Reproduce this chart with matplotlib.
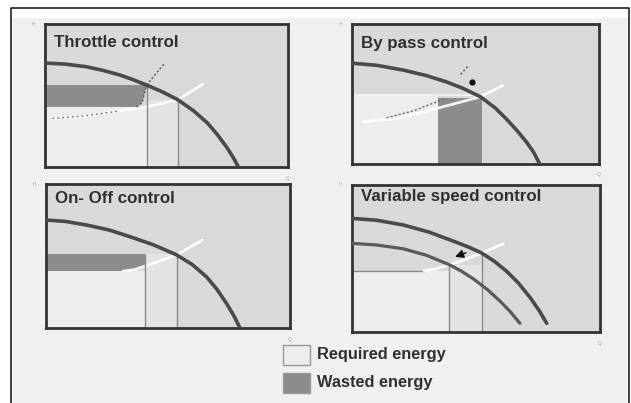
import matplotlib
matplotlib.use("Agg")
import matplotlib.pyplot as plt
import numpy as np
from matplotlib.patches import Rectangle

W, H = 631, 403

# ---------------- data (fractions of each panel's flow Q / head H) ----------------
titles = ["Throttle control", "By pass control", "On- Off control", "Variable speed control"]
legend_labels = ["Required energy", "Wasted energy"]

# Throttle control
thr_pump_q = [0.0, 0.08, 0.171, 0.24, 0.309, 0.36, 0.418, 0.48, 0.547, 0.61, 0.67, 0.71, 0.749, 0.775, 0.796]
thr_pump_h = [0.727, 0.72, 0.701, 0.675, 0.643, 0.612, 0.573, 0.528, 0.47, 0.395, 0.305, 0.225, 0.135, 0.065, 0.0]
thr_sys_q = [0.03, 0.15, 0.30, 0.418, 0.547, 0.65]
thr_sys_h = [0.34, 0.355, 0.39, 0.42, 0.47, 0.58]
thr_thr_q = [0.377, 0.40, 0.418, 0.45, 0.49]
thr_thr_h = [0.42, 0.45, 0.573, 0.64, 0.72]
thr_q1, thr_q2 = 0.418, 0.547
thr_h_op, thr_h_req = 0.573, 0.42

# By pass control
byp_pump_q = [0.0, 0.1, 0.21, 0.3, 0.38, 0.45, 0.52, 0.58, 0.626, 0.67, 0.707, 0.735, 0.76]
byp_pump_h = [0.72, 0.705, 0.67, 0.632, 0.588, 0.54, 0.48, 0.40, 0.32, 0.235, 0.155, 0.085, 0.0]
byp_sys_q = [0.046, 0.2, 0.35, 0.52, 0.61]
byp_sys_h = [0.30, 0.33, 0.40, 0.48, 0.56]
byp_dot_q = [0.14, 0.25, 0.38]
byp_dot_h = [0.33, 0.38, 0.47]
byp_q1, byp_q2 = 0.349, 0.525
byp_h_op = 0.49

# On-Off control
onf_pump_q = [0.0, 0.08, 0.167, 0.26, 0.344, 0.44, 0.535, 0.6, 0.658, 0.70, 0.74, 0.77, 0.795]
onf_pump_h = [0.75, 0.74, 0.715, 0.68, 0.634, 0.578, 0.508, 0.44, 0.355, 0.27, 0.17, 0.085, 0.0]
onf_sys_q = [0.316, 0.36, 0.406, 0.47, 0.535, 0.64]
onf_sys_h = [0.396, 0.405, 0.43, 0.468, 0.508, 0.61]
onf_q1, onf_q2 = 0.406, 0.535
onf_h_op, onf_h_req = 0.514, 0.396

# Variable speed control
var_out_q = [0.0, 0.1, 0.207, 0.31, 0.409, 0.47, 0.523, 0.575, 0.624, 0.67, 0.718, 0.755, 0.785]
var_out_h = [0.773, 0.76, 0.728, 0.68, 0.618, 0.578, 0.537, 0.48, 0.412, 0.335, 0.235, 0.145, 0.059]
var_in_q = [0.0, 0.1, 0.207, 0.3, 0.392, 0.44, 0.489, 0.545, 0.597, 0.64, 0.677]
var_in_h = [0.603, 0.592, 0.566, 0.522, 0.458, 0.415, 0.362, 0.29, 0.21, 0.135, 0.059]
var_sys_q = [0.29, 0.34, 0.392, 0.46, 0.523, 0.61]
var_sys_h = [0.417, 0.43, 0.456, 0.495, 0.537, 0.60]
var_q1, var_q2 = 0.392, 0.523
var_h1, var_h2, var_h_req = 0.456, 0.537, 0.417

# ---------------- styling ----------------
BG = "#d9d9d9"
LIGHT = "#ededed"
COL = "#e3e3e3"
DARK = "#8c8c8c"
CURVE = "#4a4a4a"
SPINE = "#333333"
TXT = "#303030"
FONT = ["Liberation Sans", "DejaVu Sans"]

fig = plt.figure(figsize=(W / 100, H / 100), dpi=100, facecolor="white")

# page background with frame
bgax = fig.add_axes([0, 0, 1, 1])
bgax.set_xlim(0, W)
bgax.set_ylim(H, 0)
bgax.axis("off")
bgax.add_patch(Rectangle((11, 18), 618, H - 18, facecolor="#f0f0f0", edgecolor="none"))
bgax.plot([11, 11, 628.5, 628.5], [H + 2, 8, 8, H + 2], color="#222222", lw=1.2)


def panel(l, t, r, b):
    ax = fig.add_axes([l / W, 1 - b / H, (r - l) / W, (b - t) / H])
    ax.set_xlim(0, 1)
    ax.set_ylim(0, 1)
    ax.set_xticks([])
    ax.set_yticks([])
    ax.set_facecolor(BG)
    for s in ax.spines.values():
        s.set_color(SPINE)
        s.set_linewidth(2.0)
    # tiny axis letters
    ax.text(-0.04, 1.0, "H", transform=ax.transAxes, fontsize=3.5, color="#aaaaaa",
            ha="right", va="center", family=FONT)
    ax.text(1.0, -0.06, "Q", transform=ax.transAxes, fontsize=3.5, color="#aaaaaa",
            ha="center", va="top", family=FONT)
    return ax


def title(ax, s, y):
    ax.text(0.035, y, s, transform=ax.transAxes, fontsize=12.2, fontweight="bold",
            color=TXT, ha="left", va="center", family=FONT, zorder=10)


# ---- Panel 1: throttle ----
ax1 = panel(45, 24, 288, 167)
ax1.add_patch(Rectangle((0, 0), thr_q1, thr_h_req, facecolor=LIGHT, edgecolor="none"))
ax1.add_patch(Rectangle((thr_q1, 0), thr_q2 - thr_q1, thr_pump_h[8], facecolor=COL, edgecolor="none"))
xx = np.linspace(0, thr_q1, 60)
bot = np.maximum(thr_h_req, np.interp(xx, thr_thr_q, thr_thr_h, left=thr_h_req))
ax1.fill_between(xx, bot, thr_h_op, facecolor=DARK, edgecolor="none")
ax1.plot(thr_sys_q, thr_sys_h, color="white", lw=2.0, alpha=0.9, solid_capstyle="round")
ax1.plot(thr_sys_q[:3], thr_sys_h[:3], color="#777777", lw=1.0, ls=(0, (1.5, 2)))
ax1.plot(thr_thr_q, thr_thr_h, color="#555555", lw=1.0, ls=(0, (1.5, 1.5)))
ax1.vlines([thr_q1, thr_q2], 0, [thr_h_op, thr_pump_h[8]], color="#888888", lw=1.0)
ax1.plot(thr_pump_q, thr_pump_h, color=CURVE, lw=2.6, solid_capstyle="round",
         solid_joinstyle="round", zorder=5)
title(ax1, titles[0], 0.874)

# ---- Panel 2: by pass ----
ax2 = panel(352, 24, 599, 164)
ax2.add_patch(Rectangle((0, 0), byp_q1, byp_h_op, facecolor=LIGHT, edgecolor="none"))
ax2.add_patch(Rectangle((byp_q1, 0), byp_q2 - byp_q1, byp_h_op - 0.02, facecolor=DARK, edgecolor="none"))
ax2.plot([0, byp_q2], [byp_h_op, byp_h_op], color="#f4f4f4", lw=1.2)
ax2.plot(byp_sys_q, byp_sys_h, color="white", lw=2.0, alpha=0.9, solid_capstyle="round")
ax2.plot(byp_dot_q, byp_dot_h, color="#666666", lw=1.0, ls=(0, (1.5, 1.5)))
ax2.plot([0.44, 0.47], [0.64, 0.70], color="#555555", lw=1.0, ls=(0, (1.5, 1.5)))
ax2.plot([0.485], [0.585], marker="o", ms=3.5, color="#111111", zorder=6)
ax2.plot(byp_pump_q, byp_pump_h, color=CURVE, lw=2.6, solid_capstyle="round",
         solid_joinstyle="round", zorder=5)
title(ax2, titles[1], 0.864)

# ---- Panel 3: on-off ----
ax3 = panel(46, 184, 290, 328)
ax3.add_patch(Rectangle((0, 0), onf_q1, onf_h_req, facecolor=LIGHT, edgecolor="none"))
ax3.add_patch(Rectangle((onf_q1, 0), onf_q2 - onf_q1, onf_h_op, facecolor=COL, edgecolor="none"))
xx = np.linspace(0, onf_q1, 60)
bot = np.maximum(onf_h_req, np.interp(xx, onf_sys_q, onf_sys_h, left=onf_h_req))
ax3.fill_between(xx, bot, onf_h_op, facecolor=DARK, edgecolor="none")
ax3.plot(onf_sys_q, onf_sys_h, color="white", lw=2.0, alpha=0.9, solid_capstyle="round")
ax3.vlines([onf_q1, onf_q2], 0, onf_h_op, color="#888888", lw=1.0)
ax3.plot(onf_pump_q, onf_pump_h, color=CURVE, lw=2.6, solid_capstyle="round",
         solid_joinstyle="round", zorder=5)
title(ax3, titles[2], 0.90)

# ---- Panel 4: variable speed ----
ax4 = panel(352, 185, 600, 332)
ax4.add_patch(Rectangle((0, 0), var_q1, var_h_req, facecolor=LIGHT, edgecolor="none"))
ax4.add_patch(Rectangle((var_q1, 0), var_q2 - var_q1, var_h1, facecolor=COL, edgecolor="none"))
ax4.plot([0, var_sys_q[0]], [var_h_req, var_h_req], color="#888888", lw=1.0)
ax4.plot(var_sys_q, var_sys_h, color="white", lw=2.0, alpha=0.9, solid_capstyle="round")
ax4.vlines([var_q1, var_q2], 0, [var_h1, var_h2], color="#888888", lw=1.0)
ax4.plot(var_out_q, var_out_h, color=CURVE, lw=2.6, solid_capstyle="round",
         solid_joinstyle="round", zorder=5)
ax4.plot(var_in_q, var_in_h, color="#5a5a5a", lw=2.3, solid_capstyle="round",
         solid_joinstyle="round", zorder=5)
ax4.annotate("", xy=(0.405, 0.505), xytext=(0.47, 0.545),
             arrowprops=dict(arrowstyle="-|>,head_width=0.25,head_length=0.5", color="#111111", lw=1.0),
             zorder=7)
title(ax4, titles[3], 0.92)

# ---- legend ----
bgax.add_patch(Rectangle((283, 345), 27, 20, facecolor=LIGHT, edgecolor="#999999", lw=1.0))
bgax.add_patch(Rectangle((283, 373), 27, 20, facecolor=DARK, edgecolor="#999999", lw=1.0))
bgax.text(317, 355, legend_labels[0], fontsize=11.8, fontweight="bold", color=TXT,
          ha="left", va="center", family=FONT)
bgax.text(317, 383, legend_labels[1], fontsize=11.8, fontweight="bold", color=TXT,
          ha="left", va="center", family=FONT)

fig.savefig("out.png", dpi=100, facecolor="white")
